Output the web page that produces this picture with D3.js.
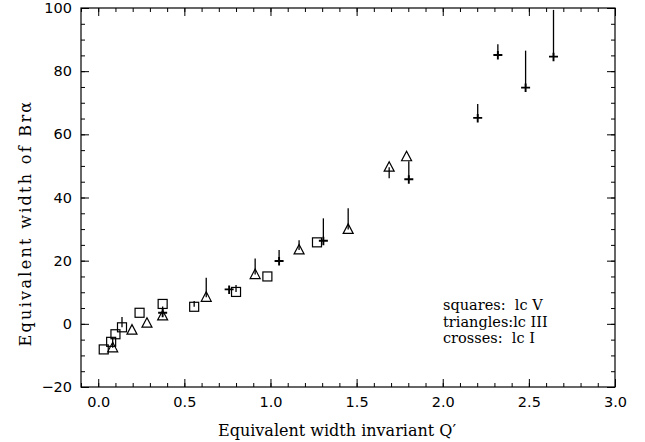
<!DOCTYPE html>
<html>
<head>
<meta charset="utf-8">
<script src="https://cdn.jsdelivr.net/npm/d3@7"></script>
<style>
  html, body { margin: 0; padding: 0; background: #fff; }
  svg { display: block; }
  .tick text { font-family: "DejaVu Sans", sans-serif; font-size: 14.5px; fill: #000; }
</style>
</head>
<body>
<script>
// ---- data (x = Q', y = EW Br-alpha, yEnd = end of vertical bar or null) ----
const squareX    = [0.032, 0.075, 0.100, 0.138, 0.240, 0.374, 0.557, 0.800, 0.982, 1.270];
const squareY    = [-8.1,  -5.7,  -3.3,  -1.1,   3.5,   6.3,   5.4,  10.1,  15.0,  25.8];
const squareEnd  = [null,  null,  null,   2.2,  null,  null,   7.2,  12.3,  null,  null];

const triangleX   = [0.084, 0.196, 0.283, 0.374, 0.627, 0.911, 1.166, 1.451, 1.689, 1.790];
const triangleY   = [-7.6,  -2.0,   0.2,   2.5,   8.4,  15.6,  23.4,  29.9,  49.6,  52.9];
const triangleEnd = [-4.3,  null,  null,  null,  14.6,  20.7,  26.5,  36.6,  46.1,  null];

const crossX   = [0.374, 0.760, 1.050, 1.307, 1.803, 2.203, 2.320, 2.481, 2.643];
const crossY   = [3.5,  10.9,  19.9,  26.3,  45.8,  65.2,  85.1,  74.8,  84.6];
const crossEnd = [5.5,  null,  23.4,  33.4,  51.5,  69.6,  88.5,  86.5,  99.4];

const xTicks = [0.0, 0.5, 1.0, 1.5, 2.0, 2.5, 3.0];
const yTicks = [-20, 0, 20, 40, 60, 80, 100];
const legendLines = ["squares:  lc V", "triangles:lc III", "crosses:  lc I"];
const xTitle = "Equivalent width invariant Q\u2032";
const yTitle = "Equivalent width of Br\u03B1";

// ---- layout ----
const W = 645, H = 442;
const L = 81, R = 615, T = 8, B = 387;

const svg = d3.select("body").append("svg").attr("width", W).attr("height", H);

const x = d3.scaleLinear().domain([-0.1, 3.0]).range([L, R]);
const y = d3.scaleLinear().domain([-20, 100]).range([B, T]);

const xMinor = d3.range(-0.1, 3.0001, 0.1).map(v => +v.toFixed(2));
const yMinor = d3.range(-20, 100.001, 5);

function axes() {
  // minor ticks
  svg.append("g").attr("transform", `translate(0,${B})`)
    .call(d3.axisBottom(x).tickValues(xMinor).tickSizeInner(-4).tickSizeOuter(0).tickFormat(""));
  svg.append("g").attr("transform", `translate(0,${T})`)
    .call(d3.axisTop(x).tickValues(xMinor).tickSizeInner(-4).tickSizeOuter(0).tickFormat(""));
  svg.append("g").attr("transform", `translate(${L},0)`)
    .call(d3.axisLeft(y).tickValues(yMinor).tickSizeInner(-4).tickSizeOuter(0).tickFormat(""));
  svg.append("g").attr("transform", `translate(${R},0)`)
    .call(d3.axisRight(y).tickValues(yMinor).tickSizeInner(-4).tickSizeOuter(0).tickFormat(""));
  // major ticks
  svg.append("g").attr("transform", `translate(0,${B})`)
    .call(d3.axisBottom(x).tickValues(xTicks).tickSizeInner(-8).tickSizeOuter(0).tickPadding(10).tickFormat(d3.format(".1f")));
  svg.append("g").attr("transform", `translate(0,${T})`)
    .call(d3.axisTop(x).tickValues(xTicks).tickSizeInner(-8).tickSizeOuter(0).tickFormat(""));
  svg.append("g").attr("transform", `translate(${L},0)`)
    .call(d3.axisLeft(y).tickValues(yTicks).tickSizeInner(-8).tickSizeOuter(0).tickPadding(9)
      .tickFormat(d => d < 0 ? "\u2212" + Math.abs(d) : d));
  svg.append("g").attr("transform", `translate(${R},0)`)
    .call(d3.axisRight(y).tickValues(yTicks).tickSizeInner(-8).tickSizeOuter(0).tickFormat(""));
  svg.selectAll(".domain").remove();
  svg.selectAll(".tick line").attr("stroke", "#000").attr("stroke-width", 1);
  svg.append("rect").attr("x", L).attr("y", T).attr("width", R - L).attr("height", B - T)
    .attr("fill", "none").attr("stroke", "#000").attr("stroke-width", 1.2);
}
axes();

const g = svg.append("g").attr("fill", "none").attr("stroke", "#000");

function bars(xs, ys, ends) {
  g.selectAll(null).data(xs.map((v, i) => ({x: v, y: ys[i], e: ends[i]})).filter(d => d.e !== null))
    .enter().append("line")
    .attr("x1", d => x(d.x)).attr("x2", d => x(d.x))
    .attr("y1", d => y(d.y)).attr("y2", d => y(d.e))
    .attr("stroke-width", 1.3);
}
bars(squareX, squareY, squareEnd);
bars(triangleX, triangleY, triangleEnd);
bars(crossX, crossY, crossEnd);

const sq = squareX.map((v, i) => ({x: v, y: squareY[i]}));
g.selectAll(null).data(sq).enter().append("rect")
  .attr("x", d => x(d.x) - 4.5).attr("y", d => y(d.y) - 4.5)
  .attr("width", 9).attr("height", 9).attr("stroke-width", 1.2).attr("fill", "none");

const tr = triangleX.map((v, i) => ({x: v, y: triangleY[i]}));
g.selectAll(null).data(tr).enter().append("path")
  .attr("d", d => { const cx = x(d.x), cy = y(d.y);
    return `M${cx - 5},${cy + 4}L${cx + 5},${cy + 4}L${cx},${cy - 5.5}Z`; })
  .attr("stroke-width", 1.2).attr("fill", "none");

const cr = crossX.map((v, i) => ({x: v, y: crossY[i]}));
g.selectAll(null).data(cr).enter().append("path")
  .attr("d", d => { const cx = x(d.x), cy = y(d.y);
    return `M${cx - 4.5},${cy}L${cx + 4.5},${cy}M${cx},${cy - 4}L${cx},${cy + 4.5}`; })
  .attr("stroke-width", 1.9);

// titles
svg.append("text").attr("x", 337).attr("y", 436)
  .attr("text-anchor", "middle")
  .style("font-family", "'DejaVu Serif', serif").style("font-size", "16px")
  .text(xTitle);
svg.append("text").attr("transform", `translate(31,${223}) rotate(-90)`)
  .attr("text-anchor", "middle")
  .style("font-family", "'DejaVu Serif', serif").style("font-size", "16px")
  .style("letter-spacing", "2.3px")
  .text(yTitle);

// legend text
svg.append("g").selectAll("text").data(legendLines).enter().append("text")
  .attr("x", 443).attr("y", (d, i) => 310 + i * 16.5)
  .attr("xml:space", "preserve").style("white-space", "pre")
  .style("font-family", "'DejaVu Serif', serif").style("font-size", "14.5px")
  .text(d => d);
</script>
</body>
</html>
